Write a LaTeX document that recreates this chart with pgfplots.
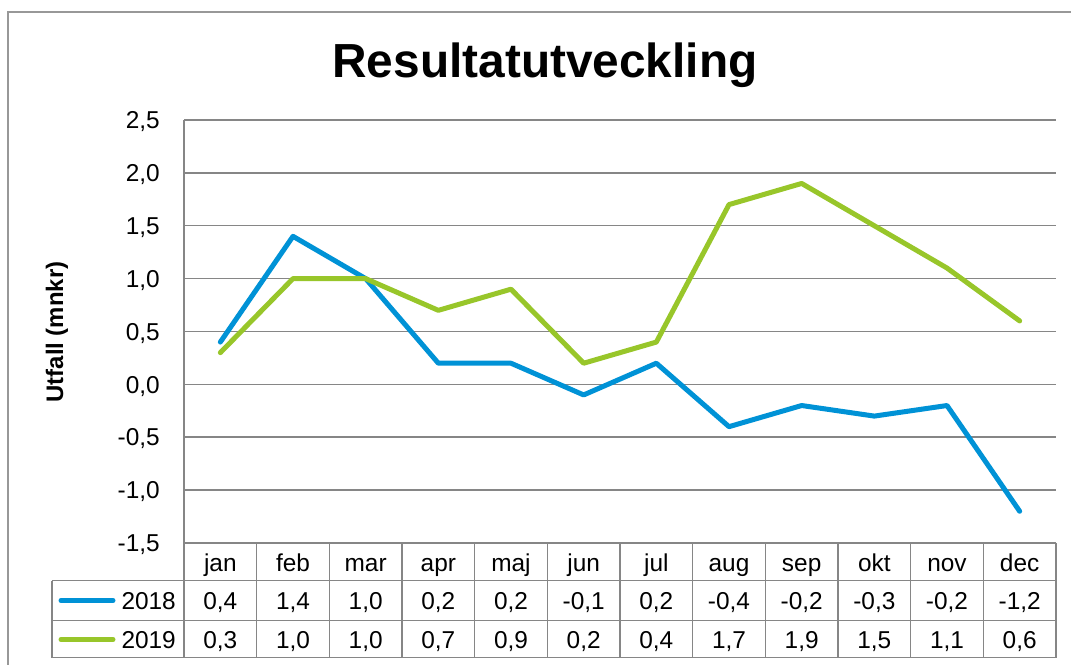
\documentclass[border=0pt]{standalone}
\usepackage{pgfplots}
\pgfplotsset{compat=1.18}
\usepackage{fontspec}
\setmainfont{Liberation Sans}
\definecolor{c18}{RGB}{0,146,214}
\definecolor{c19}{RGB}{152,198,42}
\definecolor{gridc}{RGB}{134,134,134}
\newcommand\fs[1]{\fontsize{#1}{#1}\selectfont}
\begin{document}
\begin{tikzpicture}
\path[use as bounding box] (0,0) rectangle (1071bp,665bp);
\begin{scope}
\clip (0,0) rectangle (1071bp,665bp);
\draw[gridc!85, line width=1.5bp] (8bp,-10bp) -- (8bp,653bp) -- (1090bp,653bp);
\end{scope}
\node[anchor=base, font=\fs{48}\bfseries] at (545bp,587bp) {Resultatutveckling};
\node[rotate=90, font=\fs{24}\bfseries] at (57bp,333bp) {Utfall (mnkr)};
\begin{axis}[
  at={(184bp,122bp)}, anchor=south west,
  scale only axis, width=872bp, height=423bp,
  xmin=-0.5, xmax=11.5, ymin=-1.5, ymax=2.5,
  axis x line=bottom, axis y line=left,
  axis line style={-, gridc, line width=1.5bp},
  xtick=\empty,
  ytick={-1.5,-1,-0.5,0,0.5,1,1.5,2,2.5},
  ymajorgrids, grid style={gridc, line width=1.5bp},
  major tick length=0pt,
  yticklabel style={font=\fs{24.5}, anchor=east, inner sep=0pt, xshift=-24bp,
    text height=17.5bp, text depth=0pt,
    /pgf/number format/.cd, fixed, fixed zerofill, precision=1, use comma, assume math mode=true},
]
\addplot[c18, line width=5bp, line join=round, line cap=round] coordinates {
(0,0.4) (1,1.4) (2,1.0) (3,0.2) (4,0.2) (5,-0.1) (6,0.2) (7,-0.4) (8,-0.2) (9,-0.3) (10,-0.2) (11,-1.2)};
\addplot[c19, line width=5bp, line join=round, line cap=round] coordinates {
(0,0.3) (1,1.0) (2,1.0) (3,0.7) (4,0.9) (5,0.2) (6,0.4) (7,1.7) (8,1.9) (9,1.5) (10,1.1) (11,0.6)};
\end{axis}
% data table
\begin{scope}[x=1bp, y=1bp]
\begin{scope}[gridc, line width=1.5bp]
\foreach \y in {84.3,44.3,7.3} \draw (52,\y) -- (1056,\y);
\foreach \k in {0,...,12} \draw ({184+72.667*\k},122) -- ({184+72.667*\k},7.3);
\draw (52,84.3) -- (52,7.3);
\end{scope}
\draw[c18, line width=5bp, line cap=round] (61,64.5) -- (113,64.5);
\draw[c19, line width=5bp, line cap=round] (61,25.5) -- (113,25.5);
\node[anchor=base east, font=\fs{24.5}, inner sep=0pt] at (176,56) {2018};
\node[anchor=base east, font=\fs{24.5}, inner sep=0pt] at (176,17) {2019};
\foreach \m [count=\i from 0] in {jan,feb,mar,apr,maj,jun,jul,aug,sep,okt,nov,dec}
  \node[anchor=base, font=\fs{24.5}, inner sep=0pt] at ({184+72.667*(\i+0.5)},93.5) {\m};
\foreach \v [count=\i from 0] in {0{,}4,1{,}4,1{,}0,0{,}2,0{,}2,-0{,}1,0{,}2,-0{,}4,-0{,}2,-0{,}3,-0{,}2,-1{,}2}
  \node[anchor=base, font=\fs{24.5}, inner sep=0pt] at ({184+72.667*(\i+0.5)},56) {\v};
\foreach \v [count=\i from 0] in {0{,}3,1{,}0,1{,}0,0{,}7,0{,}9,0{,}2,0{,}4,1{,}7,1{,}9,1{,}5,1{,}1,0{,}6}
  \node[anchor=base, font=\fs{24.5}, inner sep=0pt] at ({184+72.667*(\i+0.5)},17) {\v};
\end{scope}
\end{tikzpicture}
\end{document}
